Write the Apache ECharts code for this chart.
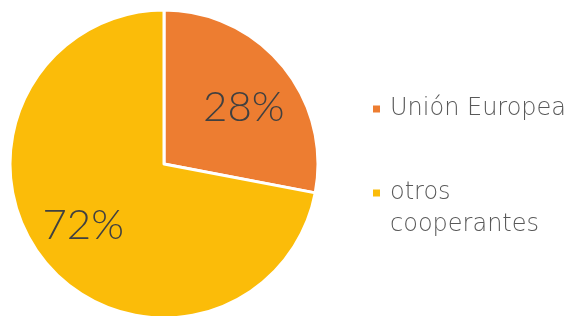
<!DOCTYPE html>
<html>
<head>
<meta charset="utf-8">
<script src="https://cdn.jsdelivr.net/npm/echarts@6/dist/echarts.min.js"></script>
<style>
  html, body { margin: 0; padding: 0; background: #fff; }
  #chart { width: 579px; height: 316px; }
</style>
</head>
<body>
<div id="chart"></div>
<script>
// datos del gráfico
var categorias = ['Unión Europea', 'otros cooperantes'];
var valores = [28, 72];
var colores = ['#ED7D31', '#FBBC09'];

var datos = categorias.map(function (c, i) {
    return { name: c, value: valores[i], itemStyle: { color: colores[i] } };
});

var myecharts = echarts.init(document.getElementById('chart'));
var fuente = 'Lato';

var option = {
    animation: false,
    legend: {
        orient: 'vertical',
        left: 371,
        top: 93,
        padding: 0,
        icon: 'rect',
        itemWidth: 9,
        itemHeight: 9,
        itemGap: 20,
        selectedMode: false,
        data: categorias,
        formatter: function (name) {
            // "otros cooperantes" en dos líneas, icono alineado con la primera
            if (name === 'otros cooperantes') return ' \notros\ncooperantes';
            return name;
        },
        textStyle: {
            fontFamily: 'DejaVu Sans',
            fontWeight: 200,
            fontSize: 24,
            lineHeight: 32,
            color: '#595959',
            padding: [0, 0, 0, 4]
        }
    },
    series: [{
        // sectores
        type: 'pie',
        center: [164, 164],
        radius: [0, 154],
        startAngle: 90,
        silent: true,
        itemStyle: { borderColor: '#fff', borderWidth: 3 },
        label: { show: false },
        labelLine: { show: false },
        data: datos
    }, {
        // serie transparente para colocar las etiquetas más afuera
        type: 'pie',
        center: [164, 164],
        radius: [0, 196],
        startAngle: 90,
        silent: true,
        itemStyle: { color: 'transparent', borderWidth: 0 },
        label: {
            show: true,
            position: 'inside',
            formatter: '{c}%',
            fontFamily: fuente,
            fontWeight: 300,
            fontSize: 42,
            color: '#404040'
        },
        labelLayout: function (p) {
            return p.dataIndex === 0 ? { dx: 2, dy: 8 } : { dx: -3, dy: -3 };
        },
        labelLine: { show: false },
        data: categorias.map(function (c, i) { return { name: c, value: valores[i] }; })
    }]
};

myecharts.setOption(option);
</script>
</body>
</html>
